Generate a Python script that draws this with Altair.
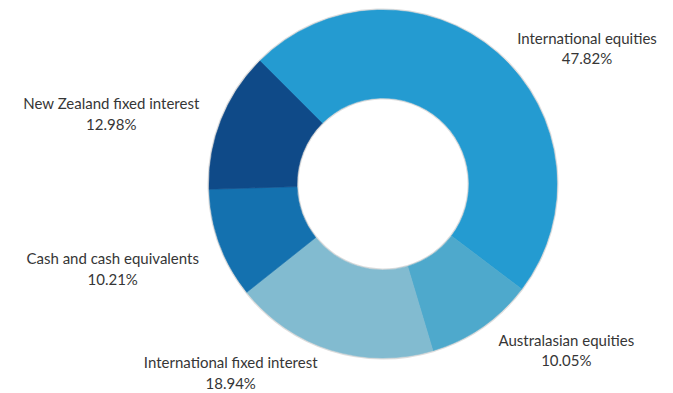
import math
import altair as alt
import pandas as pd

# Portfolio allocation, listed clockwise from the top-left
categories = [
    "International equities",
    "Australasian equities",
    "International fixed interest",
    "Cash and cash equivalents",
    "New Zealand fixed interest",
]
shares = [47.82, 10.05, 18.94, 10.21, 12.98]
colors = ["#249BD1", "#4EA9CC", "#82BBD0", "#1471AF", "#0F4A88"]

df = pd.DataFrame({"category": categories, "value": shares, "idx": list(range(len(categories)))})

# Plot area geometry
W, H = 580, 368
PAD_L, PAD_T = 93, 0
CX, CY = W / 2, H / 2
R_OUT, R_IN = 174, 86
START = -math.pi / 4          # first slice begins at 10:30
LRX, LRY = 200, 170           # label anchor ellipse
CHAR_W, HALF_H = 6.6, 17

theta_scale = alt.Scale(range=[START, START + 2 * math.pi])
color_scale = alt.Scale(domain=categories, range=colors)

base = alt.Chart(df)

shadow = base.mark_arc(radius=R_OUT + 1.5, radius2=R_IN - 1.5, color="#9a9a9a", opacity=0.35).encode(
    theta=alt.Theta("value:Q", stack=True, scale=theta_scale),
    order=alt.Order("idx:Q"),
)

ring = base.mark_arc(radius=R_OUT, radius2=R_IN, strokeWidth=0.6).encode(
    theta=alt.Theta("value:Q", stack=True, scale=theta_scale),
    color=alt.Color("category:N", scale=color_scale, legend=None),
    stroke=alt.Stroke("category:N", scale=color_scale, legend=None),
    order=alt.Order("idx:Q"),
)

labels = (
    base.transform_window(cum="sum(value)", sort=[alt.SortField("idx")])
    .transform_joinaggregate(total="sum(value)")
    .transform_calculate(
        ang=f"{START} + 2*PI*(datum.cum - datum.value/2)/datum.total",
        w=f"length(datum.category)*{CHAR_W}",
    )
    .transform_calculate(
        ax=f"{CX} + {LRX}*sin(datum.ang)",
        ay=f"{CY} - {LRY}*cos(datum.ang)",
    )
    .transform_calculate(
        lx="datum.ax + (sin(datum.ang) >= 0 ? 1 : -1)*datum.w/2",
        ly=f"datum.ay + (cos(datum.ang) >= 0 ? -1 : 1)*{HALF_H}",
        lines="[datum.category, format(datum.value, '.2f') + '%']",
    )
    .mark_text(
        font="Lato",
        fontSize=15,
        color="#363636",
        align="center",
        baseline="middle",
        lineHeight=20.5,
    )
    .encode(
        x=alt.X("lx:Q", scale=None, axis=None),
        y=alt.Y("ly:Q", scale=None, axis=None),
        text=alt.Text("lines:N"),
    )
)

chart = (
    alt.layer(shadow, ring, labels)
    .properties(
        width=W,
        height=H,
        padding={"left": PAD_L, "top": PAD_T, "right": 0, "bottom": 393 - H - PAD_T},
        autosize=alt.AutoSizeParams(type="none"),
        background="white",
    )
    .configure_view(stroke=None)
)

chart.save("out.html", embed_options={"renderer": "svg", "actions": False})
